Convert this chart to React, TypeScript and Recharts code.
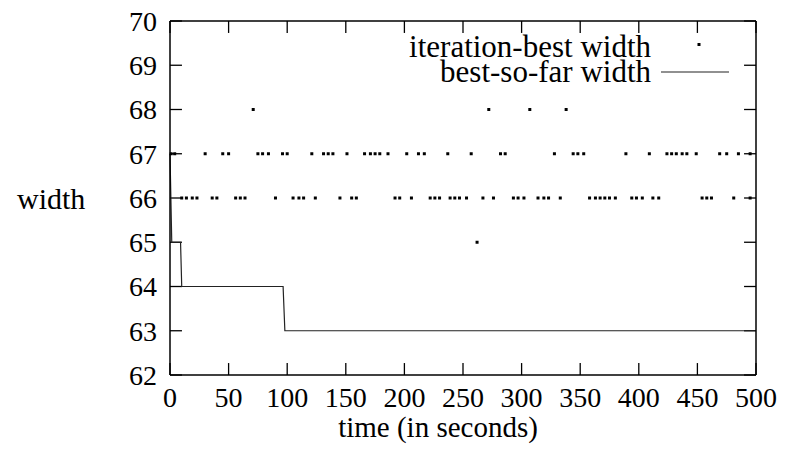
import {
  ComposedChart, Line, Scatter, XAxis, YAxis, Legend, ReferenceLine
} from 'recharts'

// iteration-best width, grouped by the width level each dot sits on (time in s)
const times68 = [71, 272, 307, 338]
const times67 = [
  1, 4, 30, 45, 50, 75, 79, 84, 96, 100, 121, 131, 135, 139, 151, 166, 171,
  175, 179, 186, 202, 212, 217, 237, 257, 282, 286, 328, 344, 348, 353, 389,
  409, 424, 428, 432, 437, 441, 449, 469, 475, 485, 495,
]
const times66 = [
  10, 14, 19, 23, 36, 40, 56, 60, 64, 90, 105, 110, 114, 124, 145, 155, 159,
  192, 196, 206, 222, 226, 230, 239, 243, 247, 253, 267, 276, 293, 297, 302,
  314, 319, 323, 333, 358, 363, 367, 371, 375, 380, 394, 398, 403, 412, 417,
  454, 458, 462, 481, 495,
]
const times65 = [262]

// best-so-far width
const bestTime = [0, 1.5, 9, 10, 96.5, 98, 500]
const bestWidth = [67, 65, 65, 64, 64, 63, 63]

const xTicks = [0, 50, 100, 150, 200, 250, 300, 350, 400, 450, 500]
const yTicks = [62, 63, 64, 65, 66, 67, 68, 69, 70]

const iterData = [
  ...times68.map(t => ({ t, w: 68 })),
  ...times67.map(t => ({ t, w: 67 })),
  ...times66.map(t => ({ t, w: 66 })),
  ...times65.map(t => ({ t, w: 65 })),
]
const bestData = bestTime.map((t, i) => ({ t, w: bestWidth[i] }))

const FONT = '"Liberation Serif", serif'
const labelStyle = { fill: '#000', fontSize: 28, fontFamily: FONT }

// inward tick length (12px) expressed in data units of each axis
const TICK_X = 10.2
const TICK_Y = 0.27

const BottomTick = ({ x, y, payload }: any) => (
  <text x={x} y={y} dy="0.71em" textAnchor="middle" {...labelStyle}>{payload.value}</text>
)
const LeftTick = ({ x, y, payload }: any) => (
  <text x={x} y={y} dy="0.355em" textAnchor="end" {...labelStyle}>{payload.value}</text>
)

const Dot = (p: any) => (
  <rect x={p.cx - 1.5} y={p.cy - 1.5} width={3} height={3} fill="#000" />
)

function LegendBox({ payload }: any) {
  const items = [...(payload || [])].sort(
    (a: any, b: any) => (a.type === 'line' ? 1 : 0) - (b.type === 'line' ? 1 : 0)
  )
  return (
    <div style={{ fontFamily: FONT, fontSize: 31, lineHeight: '25px', color: '#000' }}>
      {items.map((e: any) => (
        <div key={e.value} style={{ display: 'flex', justifyContent: 'flex-end', alignItems: 'center', height: 25 }}>
          <span>{e.value}</span>
          <svg width={80} height={25}>
            {e.type === 'line'
              ? <line x1={10} x2={78} y1={13} y2={13} stroke="#222" strokeWidth={1.2} />
              : <rect x={46.5} y={9} width={3} height={3} fill="#000" />}
          </svg>
        </div>
      ))}
    </div>
  )
}

const tickSeg = { stroke: '#000', strokeWidth: 1.3, ifOverflow: 'visible' as const }

export default function App() {
  return (
    <div style={{ margin: -8 }}>
      <ComposedChart
        width={786}
        height={459}
        margin={{ top: 21, right: 30, left: 0, bottom: 0 }}
        style={{ fontFamily: FONT }}
      >
        <XAxis
          dataKey="t" type="number" domain={[0, 500]} ticks={xTicks}
          height={84} stroke="#000" strokeWidth={1.5}
          tickLine={false} tickSize={0} tickMargin={12} tick={BottomTick}
          label={{ value: 'time (in seconds)', position: 'insideBottom', offset: 22, dx: -25, fill: '#000', fontSize: 29, fontFamily: FONT }}
        />
        <XAxis
          xAxisId="top" orientation="top" mirror type="number" domain={[0, 500]}
          stroke="#000" strokeWidth={1.5} tickLine={false} tick={false}
        />
        <YAxis
          dataKey="w" type="number" domain={[62, 70]} ticks={yTicks}
          width={170} stroke="#000" strokeWidth={1.5}
          tickLine={false} tickSize={0} tickMargin={13} tick={LeftTick}
          label={{ value: 'width', angle: 0, position: 'insideLeft', offset: 17, fill: '#000', fontSize: 30, fontFamily: FONT }}
        />
        <YAxis
          yAxisId="rt" orientation="right" mirror type="number" domain={[62, 70]}
          stroke="#000" strokeWidth={1.5} tickLine={false} tick={false}
        />
        {xTicks.map(t => (
          <ReferenceLine key={`xb${t}`} segment={[{ x: t, y: 62 }, { x: t, y: 62 + TICK_Y }]} {...tickSeg} />
        ))}
        {xTicks.map(t => (
          <ReferenceLine key={`xt${t}`} segment={[{ x: t, y: 70 }, { x: t, y: 70 - TICK_Y }]} {...tickSeg} />
        ))}
        {yTicks.map(v => (
          <ReferenceLine key={`yl${v}`} segment={[{ x: 0, y: v }, { x: TICK_X, y: v }]} {...tickSeg} />
        ))}
        {yTicks.map(v => (
          <ReferenceLine key={`yr${v}`} segment={[{ x: 500, y: v }, { x: 500 - TICK_X, y: v }]} {...tickSeg} />
        ))}
        <Legend
          layout="horizontal" verticalAlign="middle" align="center"
          wrapperStyle={{ top: 34, left: 331, width: 400 }}
          content={LegendBox}
        />
        <Scatter
          name="iteration-best width" data={iterData} legendType="square"
          shape={Dot} isAnimationActive={false}
        />
        <Line
          name="best-so-far width" data={bestData} dataKey="w" type="linear"
          stroke="#222" strokeWidth={1.2} dot={false} legendType="line"
          isAnimationActive={false}
        />
      </ComposedChart>
    </div>
  )
}
